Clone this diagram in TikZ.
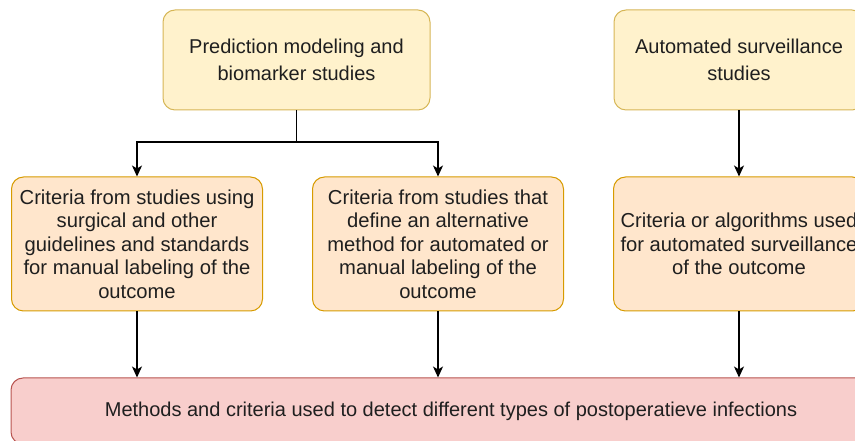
\documentclass[tikz,border=0pt]{standalone}
\usepackage{fontspec}
\setmainfont{Liberation Sans}
\usetikzlibrary{arrows.meta}
\definecolor{studyfill}{HTML}{FFF2CC}
\definecolor{studyline}{HTML}{D6B656}
\definecolor{critfill}{HTML}{FFE6CC}
\definecolor{critline}{HTML}{D79B00}
\definecolor{goalfill}{HTML}{F8CECC}
\definecolor{goalline}{HTML}{B85450}
\definecolor{inktext}{HTML}{1F1F1F}
\tikzset{
  box/.style={draw, rounded corners=12pt, line width=1pt, align=center, inner sep=0pt, text=inktext},
  studybox/.style={box, fill=studyfill, draw=studyline, minimum height=100pt,
    font=\fontsize{20}{26.5}\selectfont},
  critbox/.style={box, fill=critfill, draw=critline, minimum width=251pt, minimum height=134pt,
    font=\fontsize{20.2}{23.5}\selectfont},
  goalbox/.style={box, fill=goalfill, draw=goalline, minimum width=880pt, minimum height=66pt,
    font=\fontsize{20}{23}\selectfont},
  arr/.style={-{Stealth[length=11pt,width=10pt,inset=3pt]}, line width=1.2pt}
}
\begin{document}
\begin{tikzpicture}[x=1pt,y=1pt]
  \useasboundingbox (0,0) rectangle (855,441);
  \clip (0,0) rectangle (855,441);
  % top row
  \node[studybox, minimum width=267pt] (pred) at (296.5,381) {Prediction modeling and\\biomarker studies};
  \node[studybox, minimum width=250pt] (surv) at (739,381) {Automated surveillance\\studies};
  % middle row
  \node[critbox] (guide) at (137,197) {Criteria from studies using\\surgical and other\\guidelines and standards\\for manual labeling of the\\outcome};
  \node[critbox] (alter) at (438,197) {Criteria from studies that\\define an alternative\\method for automated or\\manual labeling of the\\outcome};
  \node[critbox] (algo) at (739,197) {Criteria or algorithms used\\for automated surveillance\\of the outcome};
  % bottom
  \node[goalbox] (goal) at (451,30) {Methods and criteria used to detect different types of postoperatieve infections};
  % connectors
  \coordinate (split) at (296.5,299);
  \draw[line width=1.2pt] (pred.south) -- (split);
  \draw[arr] (split) -| (guide.north);
  \draw[arr] (split) -| (alter.north);
  \draw[arr] (surv) -- (algo);
  \draw[arr] (guide.south) -- (guide.south |- goal.north);
  \draw[arr] (alter.south) -- (alter.south |- goal.north);
  \draw[arr] (algo.south) -- (algo.south |- goal.north);
\end{tikzpicture}
\end{document}
